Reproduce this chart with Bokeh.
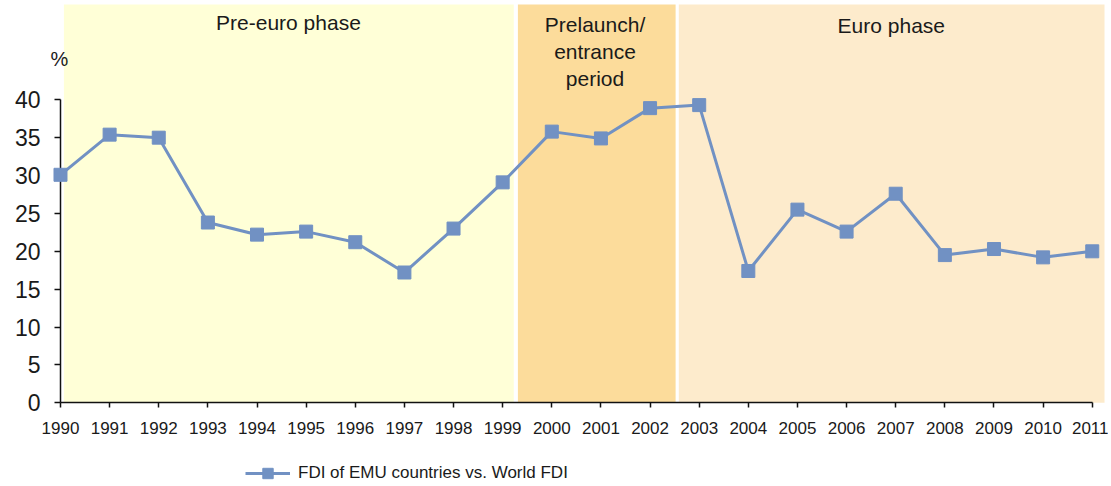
from bokeh.plotting import figure
from bokeh.models import Range1d, FixedTicker, BoxAnnotation, Label, Legend, LegendItem
from bokeh.embed import file_html
from bokeh.resources import INLINE

years = list(range(1990, 2012))
fdi_share = [30.1, 35.4, 35.0, 23.8, 22.2, 22.6, 21.2, 17.2, 23.0, 29.1,
             35.8, 34.9, 38.9, 39.3, 17.4, 25.5, 22.6, 27.6, 19.5, 20.3, 19.2, 20.0]
phase_names = ["Pre-euro phase", "Prelaunch/\nentrance\nperiod", "Euro phase"]
phase_starts = [1990.07, 1999.31, 2002.585]
phase_ends = [1999.226, 2002.52, 2011.25]
phase_top = 52.58
phase_colors = ["#FFFFD7", "#FCDC9B", "#FDEBCC"]
phase_label_x = [1994.64, 2000.88, 2006.91]
phase_label_y = [50.2, 46.4, 49.8]
y_ticks = [0, 5, 10, 15, 20, 25, 30, 35, 40]
unit_label = "%"
series_name = "FDI of EMU countries vs. World FDI"

FONT = "Liberation Sans"
BLUE = "#7191C3"
TXT = "#1a1a1a"

p = figure(width=1108, height=486, output_backend="svg", toolbar_location=None,
           x_range=Range1d(1988.779, 2011.331), y_range=Range1d(-11.05, 53.11),
           min_border_left=0, min_border_right=0, min_border_top=0, min_border_bottom=0)
p.title.visible = False
p.outline_line_color = None
p.xgrid.visible = False
p.ygrid.visible = False

for s, e, c in zip(phase_starts, phase_ends, phase_colors):
    p.add_layout(BoxAnnotation(left=s, right=e, bottom=0, top=phase_top, fill_color=c,
                               fill_alpha=1.0, line_color=None, level="underlay"))

for name, lx, ly in zip(phase_names, phase_label_x, phase_label_y):
    p.add_layout(Label(x=lx, y=ly, text=name, text_align="center", text_baseline="middle",
                       text_font=FONT, text_font_size="21px", text_color=TXT,
                       text_line_height=1.17))

p.add_layout(Label(x=1989.98, y=45.45, text=unit_label, text_align="center",
                   text_baseline="middle", text_font=FONT, text_font_size="20px",
                   text_color=TXT))

ln = p.line(years, fdi_share, line_color=BLUE, line_width=3, level="overlay")
mk = p.scatter(years, fdi_share, marker="square", size=13, fill_color=BLUE,
               line_color=BLUE, level="overlay")

p.xaxis.fixed_location = 0
p.yaxis.fixed_location = 1990
p.xaxis.bounds = (1990, 2011)
p.yaxis.bounds = (0, 40)
p.xaxis.ticker = FixedTicker(ticks=years)
p.yaxis.ticker = FixedTicker(ticks=y_ticks)
for ax in (p.xaxis[0], p.yaxis[0]):
    ax.axis_line_color = "#111111"
    ax.axis_line_width = 1.5
    ax.major_tick_line_color = "#111111"
    ax.major_tick_line_width = 1.5
    ax.major_tick_in = 0
    ax.minor_tick_line_color = None
    ax.major_label_text_font = FONT
    ax.major_label_text_color = TXT
p.xaxis.major_tick_out = 5
p.yaxis.major_tick_out = 6
p.xaxis.major_label_text_font_size = "17px"
p.yaxis.major_label_text_font_size = "23px"
p.xaxis.major_label_standoff = 14
p.yaxis.major_label_standoff = 14

legend = Legend(items=[LegendItem(label=series_name, renderers=[ln, mk])],
                location=(245, 0), orientation="horizontal",
                glyph_width=45, glyph_height=26, label_standoff=8,
                label_text_font=FONT, label_text_font_size="17px", label_text_color=TXT,
                padding=0, margin=0, border_line_color=None, background_fill_alpha=0)
p.add_layout(legend, "center")

open("out.html", "w").write(file_html(p, INLINE))
